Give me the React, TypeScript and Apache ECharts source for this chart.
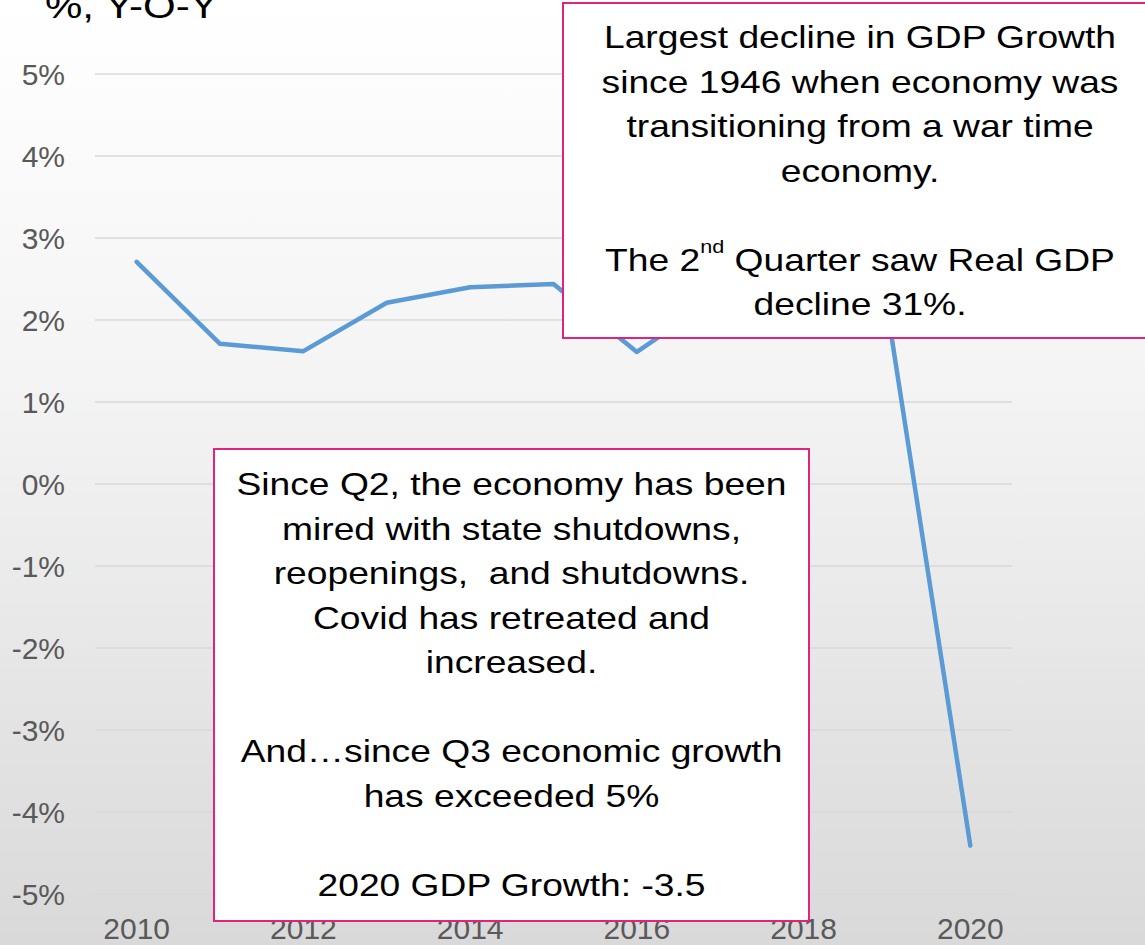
import React, { useEffect, useRef } from "react";
import * as echarts from "echarts";

const years = ["2010", "2011", "2012", "2013", "2014", "2015", "2016", "2017", "2018", "2019", "2020"];
const gdpGrowth = [2.71, 1.71, 1.62, 2.21, 2.4, 2.44, 1.61, 2.3, 2.9, 2.16, -4.41];
const yTicks = { min: -5, max: 5, interval: 1 };
const titleText = "%, Y-O-Y";
const box1Lines = [
  "Largest decline in GDP Growth",
  "since 1946 when economy was",
  "transitioning from a war time",
  "economy.",
  "",
  "The 2{sup|nd} Quarter saw Real GDP",
  "decline 31%.",
];
const box2Lines = [
  "Since Q2, the economy has been",
  "mired with state shutdowns,",
  "reopenings,  and shutdowns.",
  "Covid has retreated and",
  "increased.",
  "",
  "And\u2026since Q3 economic growth",
  "has exceeded 5%",
  "",
  "2020 GDP Growth: -3.5",
];

const FONT = "'Liberation Sans', Arial, sans-serif";
const PINK = "#E0237C";
const STRETCH = 1.2;

function makeBox(x: number, y: number, w: number, h: number, lines: string[], cx: number, ty: number) {
  return {
    type: "group",
    z: 100,
    children: [
      {
        type: "rect",
        z: 100,
        shape: { x, y, width: w, height: h },
        style: { fill: "#ffffff", stroke: PINK, lineWidth: 2 },
      },
      {
        type: "text",
        z: 101,
        x: cx,
        y: ty,
        scaleX: STRETCH,
        style: {
          text: lines.join("\n"),
          fill: "#000000",
          font: `31px ${FONT}`,
          fontSize: 31,
          fontFamily: FONT,
          align: "center",
          verticalAlign: "top",
          lineHeight: 44.5,
          rich: {
            sup: { fontSize: 18, fontFamily: FONT, fill: "#000", verticalAlign: "top", lineHeight: 30 },
          },
        },
      },
    ],
  };
}

export default function App() {
  const ref = useRef<HTMLDivElement>(null);
  useEffect(() => {
    if (!ref.current) return;
    const chart = echarts.init(ref.current, null, { renderer: "svg" });
    chart.setOption({
      animation: false,
      backgroundColor: "transparent",
      grid: { left: 95, right: 133, top: 74, bottom: 51, containLabel: false },
      xAxis: {
        type: "category",
        data: years,
        boundaryGap: true,
        axisLine: { show: false },
        axisTick: { show: false },
        axisLabel: { interval: 1, color: "#595959", fontSize: 30, fontFamily: FONT, margin: 19 },
        splitLine: { show: false },
      },
      yAxis: {
        type: "value",
        min: yTicks.min,
        max: yTicks.max,
        interval: yTicks.interval,
        axisLine: { show: false },
        axisTick: { show: false },
        axisLabel: {
          color: "#595959",
          fontSize: 30,
          fontFamily: FONT,
          margin: 30,
          formatter: (v: number) => `${v}%`,
        },
        splitLine: { lineStyle: { color: "#d9d9d9", width: 1.5 } },
      },
      series: [
        {
          type: "line",
          data: gdpGrowth,
          symbol: "none",
          lineStyle: { color: "#5B9BD5", width: 4.5, join: "round", cap: "round" },
          z: 2,
        },
      ],
      graphic: [
        {
          type: "text",
          x: 45,
          y: -12,
          z: 50,
          scaleX: STRETCH,
          style: { text: titleText, font: `35px ${FONT}`, fontSize: 35, fontFamily: FONT, fill: "#000" },
        },
        makeBox(563, 3, 600, 335, box1Lines, 860, 15),
        makeBox(214, 449, 595, 472, box2Lines, 511.5, 462),
      ],
    });
    return () => chart.dispose();
  }, []);
  return (
    <div
      style={{
        position: "absolute",
        left: 0,
        top: 0,
        width: 1145,
        height: 945,
        overflow: "hidden",
        background: "linear-gradient(to bottom, #ffffff 0%, #f4f4f4 40%, #d9d9d9 100%)",
      }}
    >
      <div ref={ref} style={{ width: 1145, height: 945 }} />
    </div>
  );
}
